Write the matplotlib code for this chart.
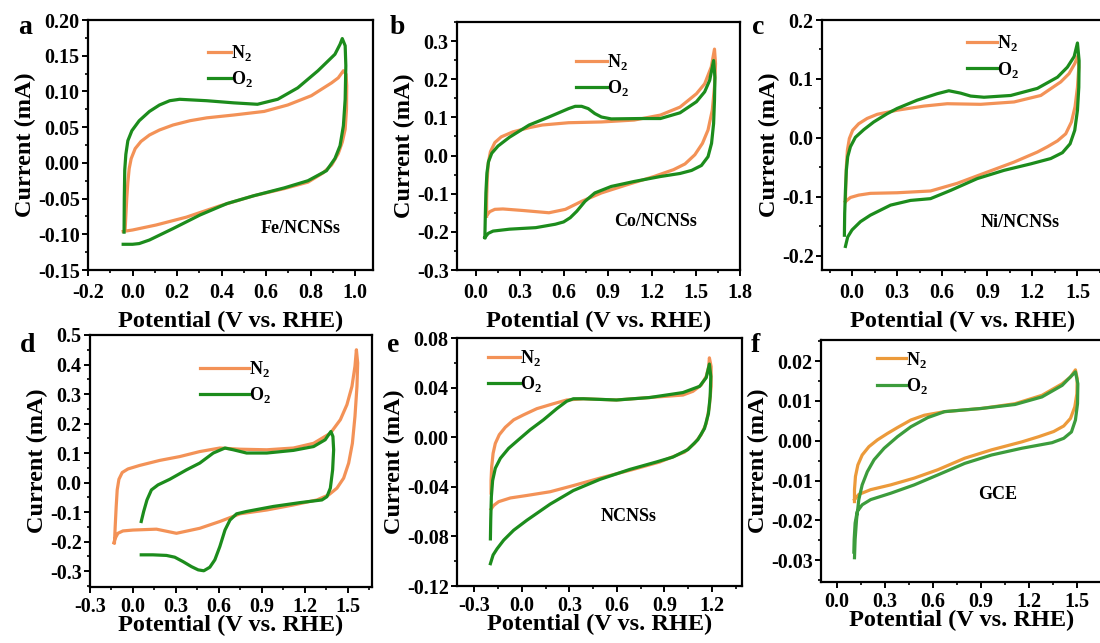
import matplotlib
matplotlib.use("Agg")
import matplotlib.pyplot as plt
from matplotlib.ticker import MultipleLocator, FormatStrFormatter

plt.rcParams['font.family'] = ['Liberation Serif', 'DejaVu Serif']
plt.rcParams['font.weight'] = 'bold'
plt.rcParams['mathtext.fontset'] = 'custom'
plt.rcParams['mathtext.rm'] = 'Liberation Serif:bold'
plt.rcParams['mathtext.bf'] = 'Liberation Serif:bold'
plt.rcParams['axes.unicode_minus'] = False

# ---- CV loops (potential in V vs RHE, current in mA) ----
a_n2_v = [-0.033, -0.026, -0.021, -0.015, -0.006, 0.012, 0.038, 0.076, 0.121, 0.182, 0.258, 0.333, 0.455,
          0.591, 0.697, 0.803, 0.894, 0.924, 0.947,
          0.959, 0.962, 0.961, 0.955, 0.942, 0.924, 0.894, 0.856, 0.788, 0.682, 0.545, 0.394, 0.242, 0.106,
          0.0, -0.042]
a_n2_i = [-0.092, -0.050, -0.027, -0.008, 0.006, 0.020, 0.030, 0.039, 0.046, 0.053, 0.059, 0.063, 0.067,
          0.072, 0.081, 0.094, 0.112, 0.119, 0.129,
          0.124, 0.108, 0.075, 0.047, 0.029, 0.013, -0.003, -0.014, -0.027, -0.036, -0.046, -0.060, -0.076,
          -0.087, -0.094, -0.096]
a_o2_v = [-0.038, -0.037, -0.035, -0.030, -0.021, -0.003, 0.030, 0.076, 0.121, 0.167, 0.212, 0.333, 0.455,
          0.561, 0.652, 0.742, 0.833, 0.909, 0.932, 0.942,
          0.955, 0.958, 0.955, 0.947, 0.932, 0.909, 0.871, 0.788, 0.682, 0.545, 0.424, 0.303, 0.182, 0.076,
          0.030, 0.0, -0.042]
a_o2_i = [-0.097, -0.050, -0.010, 0.012, 0.031, 0.045, 0.059, 0.072, 0.081, 0.087, 0.089, 0.087, 0.084,
          0.082, 0.089, 0.105, 0.129, 0.152, 0.166, 0.174,
          0.164, 0.136, 0.089, 0.052, 0.024, 0.006, -0.011, -0.025, -0.035, -0.046, -0.057, -0.073, -0.092,
          -0.108, -0.113, -0.114, -0.114]

b_n2_v = [0.072, 0.072, 0.076, 0.083, 0.098, 0.128, 0.172, 0.251, 0.362, 0.452, 0.631, 0.855, 1.078, 1.257,
          1.391, 1.503, 1.559, 1.604, 1.626,
          1.633, 1.626, 1.611, 1.582, 1.544, 1.492, 1.425, 1.347, 1.213, 1.034, 0.855, 0.720, 0.609, 0.497,
          0.318, 0.183, 0.128, 0.094, 0.072]
b_n2_i = [-0.159, -0.115, -0.063, -0.020, 0.010, 0.034, 0.049, 0.062, 0.073, 0.080, 0.086, 0.088, 0.093, 0.106,
          0.127, 0.162, 0.188, 0.232, 0.279,
          0.241, 0.180, 0.119, 0.067, 0.032, 0.002, -0.022, -0.037, -0.055, -0.076, -0.098, -0.120, -0.141,
          -0.150, -0.144, -0.140, -0.141, -0.147, -0.157]
b_o2_v = [0.060, 0.063, 0.067, 0.074, 0.085, 0.107, 0.150, 0.228, 0.362, 0.497, 0.631, 0.676, 0.720, 0.765,
          0.810, 0.855, 0.922, 1.123, 1.257, 1.391, 1.503, 1.559, 1.593, 1.620,
          1.629, 1.626, 1.620, 1.606, 1.582, 1.537, 1.470, 1.391, 1.257, 1.078, 0.922, 0.810, 0.743, 0.687,
          0.642, 0.597, 0.541, 0.407, 0.228, 0.116, 0.083, 0.060]
b_o2_i = [-0.215, -0.159, -0.098, -0.046, -0.016, 0.006, 0.025, 0.048, 0.080, 0.101, 0.123, 0.129, 0.129, 0.123,
          0.110, 0.101, 0.096, 0.097, 0.097, 0.112, 0.141, 0.167, 0.197, 0.249,
          0.205, 0.145, 0.084, 0.032, -0.003, -0.026, -0.039, -0.047, -0.055, -0.068, -0.081, -0.098, -0.120,
          -0.146, -0.163, -0.174, -0.180, -0.189, -0.193, -0.198, -0.204, -0.215]

c_n2_v = [-0.044, -0.042, -0.038, -0.031, -0.018, 0.004, 0.044, 0.100, 0.167, 0.300, 0.478, 0.633, 0.856,
          1.078, 1.256, 1.389, 1.444, 1.482, 1.504,
          1.509, 1.500, 1.484, 1.460, 1.422, 1.367, 1.300, 1.233, 1.078, 0.878, 0.700, 0.522, 0.300, 0.122,
          0.044, -0.011, -0.044]
c_n2_i = [-0.108, -0.083, -0.049, -0.021, -0.001, 0.013, 0.024, 0.033, 0.040, 0.047, 0.054, 0.058, 0.057,
          0.061, 0.072, 0.095, 0.109, 0.126, 0.140,
          0.120, 0.086, 0.053, 0.027, 0.007, -0.005, -0.015, -0.024, -0.041, -0.060, -0.077, -0.090, -0.093,
          -0.094, -0.097, -0.101, -0.108]
c_o2_v = [-0.051, -0.049, -0.044, -0.038, -0.029, -0.011, 0.022, 0.078, 0.144, 0.233, 0.300, 0.433, 0.567,
          0.644, 0.722, 0.789, 0.878, 1.056, 1.233, 1.367, 1.433, 1.478, 1.500,
          1.511, 1.509, 1.500, 1.482, 1.451, 1.400, 1.322, 1.189, 1.011, 0.833, 0.656, 0.522, 0.389, 0.256,
          0.122, 0.056, 0.0, -0.029, -0.044]
c_o2_i = [-0.165, -0.128, -0.089, -0.055, -0.032, -0.015, 0.001, 0.014, 0.027, 0.041, 0.050, 0.064, 0.075,
          0.080, 0.076, 0.071, 0.069, 0.072, 0.084, 0.103, 0.120, 0.138, 0.161,
          0.131, 0.086, 0.047, 0.013, -0.010, -0.025, -0.035, -0.044, -0.055, -0.069, -0.089, -0.103, -0.106,
          -0.114, -0.131, -0.142, -0.156, -0.168, -0.184]

d_n2_v = [-0.129, -0.124, -0.117, -0.110, -0.098, -0.075, -0.035, 0.047, 0.187, 0.327, 0.467, 0.607, 0.748,
          0.935, 1.121, 1.262, 1.379, 1.449, 1.495, 1.530, 1.551, 1.561,
          1.570, 1.565, 1.551, 1.533, 1.507, 1.472, 1.425, 1.367, 1.285, 1.121, 0.935, 0.748, 0.607, 0.467,
          0.304, 0.164, 0.0, -0.070, -0.105, -0.124, -0.133]
d_n2_i = [-0.204, -0.149, -0.081, -0.025, 0.011, 0.034, 0.046, 0.058, 0.075, 0.088, 0.105, 0.117, 0.113,
          0.111, 0.117, 0.133, 0.167, 0.213, 0.264, 0.326, 0.394, 0.450,
          0.405, 0.326, 0.224, 0.133, 0.066, 0.015, -0.019, -0.042, -0.059, -0.076, -0.093, -0.106, -0.132,
          -0.155, -0.172, -0.158, -0.161, -0.164, -0.172, -0.189, -0.204]
d_o2_v = [0.058, 0.075, 0.098, 0.129, 0.175, 0.257, 0.374, 0.467, 0.561, 0.643, 0.701, 0.794, 0.935, 1.121,
          1.262, 1.343, 1.367, 1.383,
          1.397, 1.402, 1.395, 1.379, 1.355, 1.320, 1.168, 0.981, 0.794, 0.724, 0.678, 0.643, 0.607, 0.572,
          0.537, 0.495, 0.456, 0.409, 0.350, 0.292, 0.234, 0.140, 0.058]
d_o2_i = [-0.132, -0.098, -0.059, -0.025, -0.008, 0.011, 0.043, 0.066, 0.100, 0.117, 0.111, 0.100, 0.100, 0.109,
          0.122, 0.145, 0.162, 0.173,
          0.156, 0.111, 0.043, -0.019, -0.048, -0.059, -0.068, -0.081, -0.098, -0.106, -0.127, -0.161, -0.217,
          -0.262, -0.287, -0.299, -0.296, -0.285, -0.268, -0.253, -0.247, -0.245, -0.245]

e_n2_v = [-0.195, -0.195, -0.191, -0.182, -0.168, -0.143, -0.105, -0.052, 0.010, 0.094, 0.199, 0.283, 0.388,
          0.597, 0.807, 1.017, 1.080, 1.132, 1.164, 1.180, 1.184,
          1.195, 1.195, 1.184, 1.164, 1.132, 1.090, 1.027, 0.870, 0.702, 0.493, 0.325, 0.178, 0.031, -0.073,
          -0.147, -0.178, -0.195]
e_n2_i = [-0.045, -0.035, -0.024, -0.013, -0.005, 0.002, 0.008, 0.014, 0.018, 0.023, 0.027, 0.030, 0.031,
          0.030, 0.032, 0.034, 0.037, 0.042, 0.049, 0.057, 0.064,
          0.057, 0.041, 0.025, 0.011, 0.002, -0.005, -0.012, -0.020, -0.026, -0.033, -0.039, -0.044, -0.047,
          -0.049, -0.052, -0.055, -0.058]
e_o2_v = [-0.199, -0.197, -0.193, -0.185, -0.168, -0.136, -0.084, -0.021, 0.052, 0.136, 0.220, 0.283, 0.325,
          0.388, 0.597, 0.807, 1.017, 1.122, 1.164, 1.184,
          1.193, 1.189, 1.178, 1.153, 1.111, 1.048, 0.954, 0.849, 0.681, 0.493, 0.325, 0.178, 0.031, -0.052,
          -0.115, -0.157, -0.182, -0.199]
e_o2_i = [-0.082, -0.067, -0.048, -0.035, -0.025, -0.017, -0.009, -0.002, 0.006, 0.014, 0.023, 0.029, 0.031,
          0.031, 0.030, 0.032, 0.036, 0.041, 0.048, 0.059,
          0.049, 0.033, 0.019, 0.007, -0.002, -0.010, -0.016, -0.020, -0.026, -0.034, -0.043, -0.054, -0.067,
          -0.075, -0.083, -0.090, -0.095, -0.102]

f_n2_v = [0.109, 0.109, 0.115, 0.130, 0.157, 0.199, 0.252, 0.314, 0.377, 0.461, 0.545, 0.671, 0.901, 1.111,
          1.279, 1.405, 1.457, 1.488,
          1.499, 1.497, 1.484, 1.457, 1.415, 1.352, 1.258, 1.153, 0.964, 0.797, 0.629, 0.482, 0.335, 0.210,
          0.136, 0.109]
f_n2_i = [-0.0153, -0.0123, -0.0090, -0.0061, -0.0036, -0.0015, 0.0002, 0.0018, 0.0033, 0.0052, 0.0064,
          0.0073, 0.0081, 0.0093, 0.0114, 0.0143, 0.0160, 0.0178,
          0.0156, 0.0118, 0.0085, 0.0056, 0.0037, 0.0023, 0.0010, -0.0003, -0.0023, -0.0044, -0.0073, -0.0094,
          -0.0111, -0.0123, -0.0135, -0.0148]
f_o2_v = [0.109, 0.113, 0.122, 0.136, 0.157, 0.189, 0.231, 0.294, 0.377, 0.461, 0.566, 0.671, 0.901, 1.111,
          1.279, 1.405, 1.488,
          1.503, 1.501, 1.488, 1.463, 1.415, 1.342, 1.153, 0.964, 0.797, 0.629, 0.482, 0.335, 0.210, 0.157,
          0.126, 0.113, 0.107, 0.105]
f_o2_i = [-0.0294, -0.0248, -0.0198, -0.0148, -0.0111, -0.0078, -0.0048, -0.0019, 0.0010, 0.0035, 0.0058,
          0.0073, 0.0081, 0.0091, 0.0110, 0.0139, 0.0173,
          0.0143, 0.0093, 0.0052, 0.0022, 0.0006, -0.0005, -0.0019, -0.0036, -0.0057, -0.0086, -0.0111,
          -0.0132, -0.0148, -0.0161, -0.0178, -0.0207, -0.0248, -0.0280]

samples = ['Fe/NCNSs', 'Co/NCNSs', 'Ni/NCNSs', '', 'NCNSs', 'GCE']
letters = ['a', 'b', 'c', 'd', 'e', 'f']

W, H = 1100, 643
fig = plt.figure(figsize=(11, 6.43), dpi=100)


def px_axes(l, t, r, b):
    return fig.add_axes([l / W, 1 - b / H, (r - l) / W, (b - t) / H])


panels = [
    dict(box=(88, 20, 373, 270), xlim=(-0.2, 1.08), ylim=(-0.15, 0.20), xs=0.2, ys=0.05, yf='%.2f',
         leg=(0.42, 0.816), hl=1.3, txt=(0.746, 0.168), let=(25, 28),
         n2=(a_n2_v, a_n2_i), o2=(a_o2_v, a_o2_i)),
    dict(box=(457, 22, 740, 270), xlim=(-0.13, 1.8), ylim=(-0.3, 0.35), xs=0.3, ys=0.1, yf='%.1f',
         leg=(0.42, 0.786), hl=1.7, txt=(0.703, 0.194), let=(397, 28),
         n2=(b_n2_v, b_n2_i), o2=(b_o2_v, b_o2_i)),
    dict(box=(822, 20, 1103, 270), xlim=(-0.2, 1.67), ylim=(-0.224, 0.20), xs=0.3, ys=0.1, yf='%.1f',
         leg=(0.515, 0.854), hl=1.7, txt=(0.705, 0.192), let=(758, 28),
         n2=(c_n2_v, c_n2_i), o2=(c_o2_v, c_o2_i)),
    dict(box=(90, 335, 372, 587), xlim=(-0.3, 1.67), ylim=(-0.354, 0.50), xs=0.3, ys=0.1, yf='%.1f',
         leg=(0.39, 0.813), hl=2.7, txt=None, let=(28, 345),
         n2=(d_n2_v, d_n2_i), o2=(d_o2_v, d_o2_i)),
    dict(box=(457, 338, 742, 586), xlim=(-0.41, 1.39), ylim=(-0.12, 0.08), xs=0.3, ys=0.04, yf='%.2f',
         leg=(0.108, 0.866), hl=1.8, txt=(0.604, 0.279), let=(393, 345),
         n2=(e_n2_v, e_n2_i), o2=(e_o2_v, e_o2_i)),
    dict(box=(821, 340, 1103, 582), xlim=(-0.1, 1.66), ylim=(-0.0355, 0.0253), xs=0.3, ys=0.01, yf='%.2f',
         leg=(0.2, 0.864), hl=1.6, txt=(0.628, 0.36), let=(755, 345),
         n2=(f_n2_v, f_n2_i), o2=(f_o2_v, f_o2_i)),
]

orange = ['#F39257'] * 5 + ['#EC9A3A']
green = ['#1C8C1C'] * 5 + ['#3C9C3C']

for k, p in enumerate(panels):
    top_row = k < 3
    ax = px_axes(*p['box'])
    ax.plot(*p['n2'], color=orange[k], lw=2.3, label=r'N$_2$', solid_joinstyle='round')
    ax.plot(*p['o2'], color=green[k], lw=2.3, label=r'O$_2$', solid_joinstyle='round')
    ax.set_xlim(*p['xlim'])
    ax.set_ylim(*p['ylim'])
    ax.xaxis.set_major_locator(MultipleLocator(p['xs']))
    ax.xaxis.set_minor_locator(MultipleLocator(p['xs'] / 2))
    ax.yaxis.set_major_locator(MultipleLocator(p['ys']))
    ax.yaxis.set_minor_locator(MultipleLocator(p['ys'] / 2))
    ax.xaxis.set_major_formatter(FormatStrFormatter('%.1f'))
    ax.yaxis.set_major_formatter(FormatStrFormatter(p['yf']))
    for s in ax.spines.values():
        s.set_linewidth(1.6)
    ax.tick_params(which='major', direction='out', length=4, width=1.4, labelsize=14.5, pad=2)
    ax.tick_params(which='minor', direction='out', length=2.5, width=1.2)
    ax.tick_params(axis='x', which='major', pad=5 if top_row else 3)
    for lab in ax.get_xticklabels() + ax.get_yticklabels():
        lab.set_fontweight('bold')
    ax.set_xlabel('Potential (V vs. RHE)', fontsize=17.5, fontweight='bold',
                  labelpad=6 if top_row else -1)
    ax.set_ylabel('Current (mA)', fontsize=17.5, fontweight='bold', labelpad=1)
    ax.legend(loc='center left', bbox_to_anchor=p['leg'], frameon=False, fontsize=13,
              handlelength=p['hl'], handletextpad=0.0, labelspacing=0.35, borderpad=0, borderaxespad=0)
    if p['txt'] is not None:
        ax.text(*p['txt'], samples[k], transform=ax.transAxes, ha='center', va='center',
                fontsize=13, fontweight='bold')
    fig.text(p['let'][0] / W, 1 - p['let'][1] / H, letters[k], ha='center', va='center',
             fontsize=20, fontweight='bold')

fig.savefig('out.png', dpi=100)
